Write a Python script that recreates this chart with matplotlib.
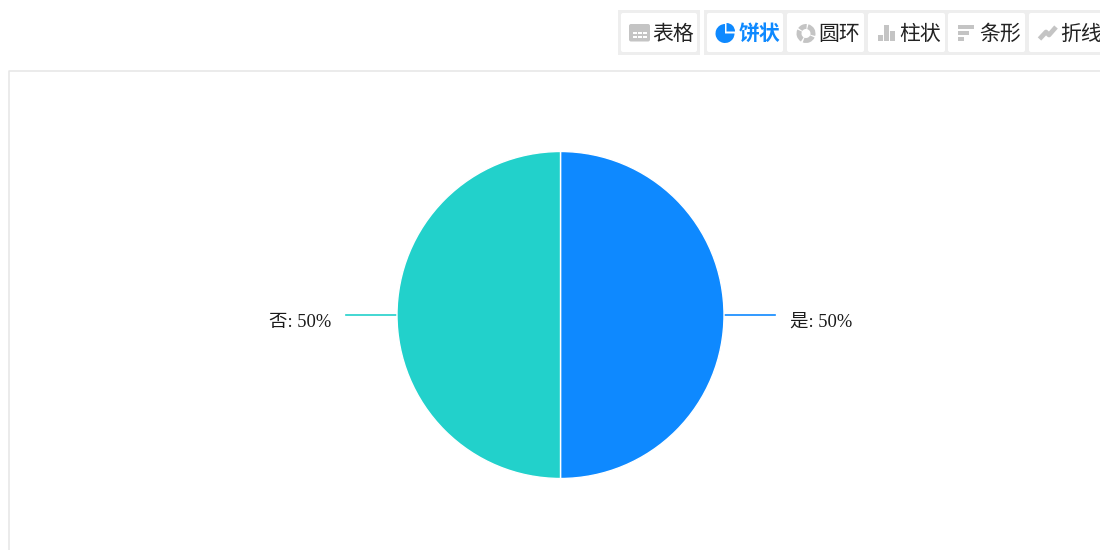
import matplotlib
matplotlib.use("Agg")
import matplotlib.pyplot as plt
from matplotlib.patches import Rectangle, FancyBboxPatch, Wedge
import numpy as np

labels = ["是", "否"]
values = [50, 50]
colors = ["#0e89ff", "#22d1cb"]
tool_names = ["表格", "饼状", "圆环", "柱状", "条形", "折线"]
tool_left = [621, 707, 787, 868, 948, 1029]
tool_right = [697, 783, 864, 945, 1025, 1105]

GRAY = "#c4c4c4"
BLUE = "#0e89ff"
BORDER = "#eeeeee"
CJK = ["Noto Sans CJK SC", "DejaVu Sans"]
SERIF = ["Liberation Serif", "Noto Sans CJK SC"]

fig = plt.figure(figsize=(11, 5.5), dpi=100)

# overlay in pixel coords, y goes down like the screenshot
bg = fig.add_axes([0, 0, 1, 1])
bg.set_xlim(0, 1100)
bg.set_ylim(550, 0)
bg.axis("off")

# chart frame
bg.plot([9, 9, 1100], [550, 70.5, 70.5], color="#e6e6e6", lw=1.1)

# toolbar groups
bg.add_patch(Rectangle((618, 10), 82, 45, fc=BORDER, ec="none"))
bg.add_patch(Rectangle((704, 10), 400, 45, fc=BORDER, ec="none"))

for i, name in enumerate(tool_names):
    l, r = tool_left[i], tool_right[i]
    bg.add_patch(FancyBboxPatch((l + 1, 14), r - l - 2, 37, boxstyle="round,pad=1,rounding_size=2",
                                fc="white", ec="none"))
    active = name == "饼状"
    bg.text(l + 31.5, 33.5, name, family=CJK, fontsize=15, va="center", ha="left",
            color=BLUE if active else "#222222", fontweight="bold" if active else "normal")

# table icon
bg.add_patch(FancyBboxPatch((630, 25), 19, 15.5, boxstyle="round,pad=1,rounding_size=2", fc=GRAY, ec="none"))
for x in [633, 638, 643]:
    for y in [31.5, 36]:
        bg.add_patch(Rectangle((x, y), 3.5, 2, fc="white", ec="none"))

# pie icon, y is flipped so the top right quarter is 270-360
bg.add_patch(Wedge((725, 33.5), 9.5, 0, 270, fc=BLUE, ec="none"))
bg.add_patch(Wedge((726.5, 31.5), 8.5, 270, 360, fc=BLUE, ec="none"))

# ring icon
for a, b in [(-75, 15), (25, 110), (122, 205), (215, 275)]:
    bg.add_patch(Wedge((806, 33.5), 9.5, a, b, width=5, fc=GRAY, ec="none"))

# bar icon
for x, top in [(878, 35), (884, 25), (890, 31)]:
    bg.add_patch(Rectangle((x, top), 4.5, 41 - top, fc=GRAY, ec="none"))

# hbar icon
for y, w in [(25, 16), (31, 10.5), (37, 6)]:
    bg.add_patch(Rectangle((958, y), w, 4.3, fc=GRAY, ec="none"))

# line icon
bg.plot([1039.5, 1046, 1049, 1056], [39, 32, 35, 27], color=GRAY, lw=3.4, solid_capstyle="butt")

# pie, drawn clockwise from 12 o'clock
cx, cy, rad = 560.5, 315, 163.5
pie_ax = fig.add_axes([(cx - rad - 2) / 1100, 1 - (cy + rad + 2) / 550, (2 * rad + 4) / 1100, (2 * rad + 4) / 550])
pie_ax.pie(values, colors=colors, startangle=90, counterclock=False, radius=rad / (rad + 2),
           wedgeprops={"edgecolor": "white", "linewidth": 1.0})
pie_ax.set_xlim(-1, 1)
pie_ax.set_ylim(-1, 1)

# leader lines and labels follow the slice middle
start = 0
for lab, val, col in zip(labels, values, colors):
    mid = start + val / sum(values) / 2
    start += val / sum(values)
    side = np.sign(np.sin(2 * np.pi * mid))
    x0 = cx + side * (rad + 1)
    x1 = cx + side * (rad + 51)
    bg.plot([x0, x1], [cy, cy], color=col, lw=1.2)
    bg.text(x1 + side * 15, cy + 7, f"{lab}: {val}%", family=SERIF, fontsize=13.3,
            va="center", ha="left" if side > 0 else "right", color="#1a1a1a")

fig.savefig("out.png", dpi=100)
